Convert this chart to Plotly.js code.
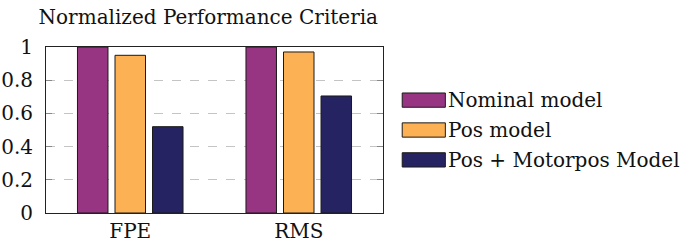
<!DOCTYPE html>
<html><head><meta charset="utf-8">
<script src="https://cdn.plot.ly/plotly-3.0.1.min.js"></script>
<style>html,body{margin:0;padding:0;background:#fff}</style>
</head><body>
<div id="chart" style="width:689px;height:244px"></div>
<script>
const categories = ["FPE", "RMS"];
const seriesNames = ["Nominal model", "Pos model", "Pos + Motorpos Model"];
const nominal = [1.0, 1.0];
const pos = [0.95, 0.97];
const posMotor = [0.52, 0.705];
const colors = ["#983582", "#FDB155", "#252361"];
const yTicks = [0, 0.2, 0.4, 0.6, 0.8, 1];
const yTickText = ["0", "0.2", "0.4", "0.6", "0.8", "1"];

const FONT = "DejaVu Serif";
const seriesVals = [nominal, pos, posMotor];
const traces = seriesVals.map((v, i) => ({
  type: "bar", x: categories, y: v, name: seriesNames[i],
  marker: {color: colors[i], line: {color: "#1a1a1a", width: 1}},
  showlegend: false, hoverinfo: "none"
}));

const shapes = [], annotations = [];
const legX0 = 1.057, legX1 = 1.185;
const legY = [0.68, 0.50, 0.32];
seriesNames.forEach((n, i) => {
  shapes.push({type: "rect", xref: "paper", yref: "paper",
    x0: legX0, x1: legX1, y0: legY[i] - 0.043, y1: legY[i] + 0.043,
    fillcolor: colors[i], line: {color: "#1a1a1a", width: 1}});
  annotations.push({xref: "paper", yref: "paper", x: legX1 + 0.003, y: legY[i],
    xanchor: "left", yanchor: "middle", showarrow: false, text: n,
    font: {family: FONT, size: 20, color: "#111"}});
});

const layout = {
  width: 689, height: 244,
  margin: {l: 46, r: 306, t: 47, b: 31},
  paper_bgcolor: "#fff", plot_bgcolor: "#fff",
  font: {family: FONT, size: 20, color: "#111"},
  title: {text: "Normalized Performance Criteria", x: 0.056, xanchor: "left",
    y: 0.93, yanchor: "middle", font: {family: FONT, size: 20, color: "#111"}},
  barmode: "group", bargap: 0.332, bargroupgap: 0.187,
  xaxis: {type: "category", range: [-0.5, 1.5], showline: true, linecolor: "#222", linewidth: 1,
    mirror: true, ticks: "", showgrid: false, tickfont: {family: FONT, size: 20}, fixedrange: true},
  xaxis2: {overlaying: "x", side: "top", type: "linear", range: [-0.5, 1.5], tickvals: [0, 1],
    ticks: "inside", ticklen: 6, tickcolor: "#888", showticklabels: false, showgrid: false,
    showline: false, zeroline: false},
  yaxis: {range: [0, 1], tickvals: yTicks, ticktext: yTickText, showline: true, linecolor: "#222",
    linewidth: 1, mirror: "ticks", ticks: "inside", ticklen: 6, tickcolor: "#888",
    showgrid: true, gridcolor: "#c4c4c4", griddash: "dash", gridwidth: 1, zeroline: false,
    tickfont: {family: FONT, size: 20}, ticklabelstandoff: 8, fixedrange: true},
  shapes: shapes, annotations: annotations, showlegend: false
};
Plotly.newPlot("chart", traces, layout, {displayModeBar: false, staticPlot: true});
</script>
</body></html>
